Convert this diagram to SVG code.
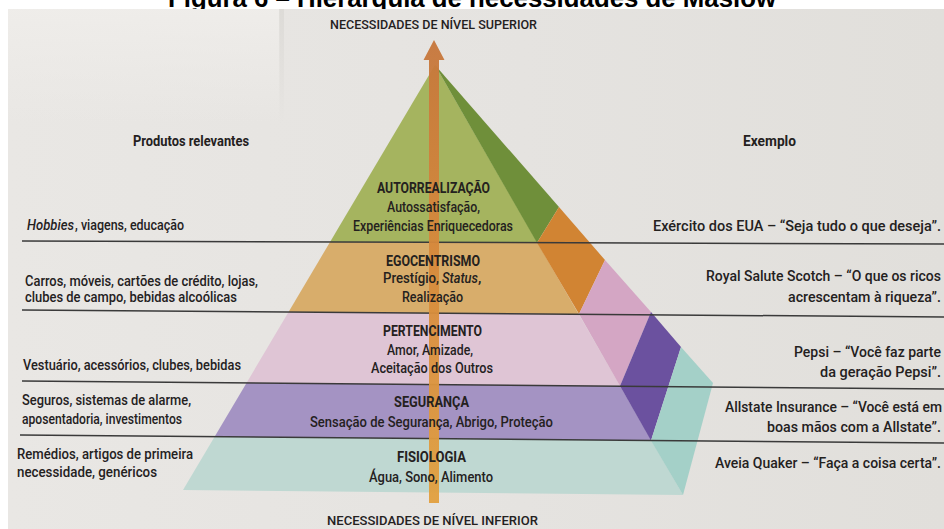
<svg xmlns="http://www.w3.org/2000/svg" width="944" height="529" viewBox="0 0 944 529">
  <defs>
    <linearGradient id="page" x1="0" y1="0" x2="1" y2="0">
      <stop offset="0" stop-color="#e9e7e4"/>
      <stop offset="0.55" stop-color="#e5e3e0"/>
      <stop offset="1" stop-color="#e1dfdb"/>
    </linearGradient>
    <linearGradient id="corner" x1="0" y1="0" x2="0" y2="1">
      <stop offset="0" stop-color="#efedea" stop-opacity="0.95"/>
      <stop offset="1" stop-color="#efedea" stop-opacity="0"/>
    </linearGradient>
    <linearGradient id="fold" x1="0" y1="0" x2="0" y2="1">
      <stop offset="0" stop-color="#d9d7d3" stop-opacity="0.7"/>
      <stop offset="1" stop-color="#d9d7d3" stop-opacity="0"/>
    </linearGradient>
    <linearGradient id="shaft" x1="0" y1="0" x2="0" y2="1">
      <stop offset="0" stop-color="#c6763b"/>
      <stop offset="0.45" stop-color="#d6883b"/>
      <stop offset="1" stop-color="#e2a03f"/>
    </linearGradient>
    <clipPath id="front">
      <polygon points="435,65 183,490 683,495"/>
    </clipPath>
  </defs>
  <style>
    .title{font-family:"Liberation Sans",Arial,sans-serif;font-weight:700;font-size:26px;fill:#000}
    .t{font-family:Roboto,"Liberation Sans",Arial,sans-serif;font-weight:500;font-size:15px;fill:#24211e}
    .r{text-anchor:end}
    .h{font-weight:700}
    .cap{font-size:12.5px}
    .i{font-style:italic}
    .rule{stroke:#3a3a3a;stroke-width:1.5;fill:none}
  </style>

  <!-- caption above the photographed page -->
  <rect width="944" height="529" fill="#ffffff"/>
  <text class="title" x="168" y="7" textLength="608" lengthAdjust="spacingAndGlyphs">Figura 6 – Hierarquia de necessidades de Maslow</text>

  <!-- page -->
  <rect x="8" y="9" width="936" height="520" fill="url(#page)"/>
  <rect x="8" y="9" width="272" height="115" fill="url(#corner)"/>
  <rect x="279" y="9" width="5" height="115" fill="url(#fold)"/>

  <!-- pyramid faces: front bands clipped to the front triangle, side pieces on the right face -->
  <g id="pyramid-faces">
    <g clip-path="url(#front)">
      <polygon id="front-autorrealizacao" fill="#a5b45f" points="150,0 720,0 720,243.3 150,241.4"/>
      <polygon id="front-egocentrismo" fill="#d8ad6b" points="150,241.4 720,243.3 720,315.3 150,311"/>
      <polygon id="front-pertencimento" fill="#dfc5d5" points="150,311 720,315.3 720,387.1 150,382.1"/>
      <polygon id="front-seguranca" fill="#a493c3" points="150,382.1 720,387.1 720,441.1 150,436.1"/>
      <polygon id="front-fisiologia" fill="#bfd8d2" points="150,436.1 720,441.1 720,520 150,520"/>
    </g>
    <polygon id="side-autorrealizacao" fill="#6f8f3a" points="435,65 559,207 537,242.7"/>
    <polygon id="side-egocentrismo" fill="#d18433" points="537,242.7 559,207 605,260 579,314"/>
    <polygon id="side-pertencimento" fill="#d4a6c4" points="579,314 605,260 651,312 620,386"/>
    <polygon id="side-seguranca" fill="#6b519f" points="620,386 651,312 681,347 651,440.5"/>
    <polygon id="side-fisiologia" fill="#a4d0c8" points="651,440.5 681,347 713,383 683,495"/>
  </g>

  <!-- connectors: row rules and the vertical needs axis -->
  <g id="connectors">
    <line class="rule" x1="22" y1="241" x2="944" y2="244"/>
    <line class="rule" x1="22" y1="310" x2="944" y2="317"/>
    <line class="rule" x1="22" y1="381" x2="944" y2="389"/>
    <line class="rule" x1="20" y1="435" x2="944" y2="443"/>
    <path id="needs-axis" fill="url(#shaft)" fill-opacity="0.95" d="M434,40 L444.5,60 L439,60 L439,503 L429,503 L429,60 L423.5,60 Z"/>
  </g>

  <!-- axis ends -->
  <g id="axis-top">
    <text class="t cap" x="330" y="29" textLength="207" lengthAdjust="spacingAndGlyphs">NECESSIDADES DE NÍVEL SUPERIOR</text>
  </g>
  <g id="axis-bottom">
    <text class="t cap" x="327" y="525" textLength="211" lengthAdjust="spacingAndGlyphs">NECESSIDADES DE NÍVEL INFERIOR</text>
  </g>

  <!-- column headers -->
  <g id="header-produtos">
    <text class="t h" x="133" y="146" textLength="116" lengthAdjust="spacingAndGlyphs">Produtos relevantes</text>
  </g>
  <g id="header-exemplo">
    <text class="t h" x="743" y="146" textLength="53" lengthAdjust="spacingAndGlyphs">Exemplo</text>
  </g>

  <!-- levels -->
  <g id="level-autorrealizacao">
    <text class="t h" x="377" y="193" textLength="113" lengthAdjust="spacingAndGlyphs">AUTORREALIZAÇÃO</text>
    <text class="t" x="387" y="212" textLength="93" lengthAdjust="spacingAndGlyphs">Autossatisfação,</text>
    <text class="t" x="353" y="231" textLength="160" lengthAdjust="spacingAndGlyphs">Experiências Enriquecedoras</text>
    <text class="t i" x="27" y="230" textLength="47" lengthAdjust="spacingAndGlyphs">Hobbies</text>
    <text class="t" x="75" y="230" textLength="109" lengthAdjust="spacingAndGlyphs">, viagens, educação</text>
    <text class="t r" x="941" y="231" textLength="288" lengthAdjust="spacingAndGlyphs">Exército dos EUA – “Seja tudo o que deseja”.</text>
  </g>

  <g id="level-egocentrismo">
    <text class="t h" x="386" y="266" textLength="94" lengthAdjust="spacingAndGlyphs">EGOCENTRISMO</text>
    <text class="t" x="383" y="283" textLength="56" lengthAdjust="spacingAndGlyphs">Prestígio,</text>
    <text class="t i" x="442" y="283" textLength="36" lengthAdjust="spacingAndGlyphs">Status</text>
    <text class="t" x="478" y="283">,</text>
    <text class="t" x="402" y="302" textLength="61" lengthAdjust="spacingAndGlyphs">Realização</text>
    <text class="t" x="25" y="286" textLength="233" lengthAdjust="spacingAndGlyphs">Carros, móveis, cartões de crédito, lojas,</text>
    <text class="t" x="25" y="302" textLength="212" lengthAdjust="spacingAndGlyphs">clubes de campo, bebidas alcoólicas</text>
    <text class="t r" x="941" y="281" textLength="235" lengthAdjust="spacingAndGlyphs">Royal Salute Scotch – “O que os ricos</text>
    <text class="t r" x="941" y="302" textLength="153" lengthAdjust="spacingAndGlyphs">acrescentam à riqueza”.</text>
  </g>

  <g id="level-pertencimento">
    <text class="t h" x="383" y="336" textLength="99" lengthAdjust="spacingAndGlyphs">PERTENCIMENTO</text>
    <text class="t" x="387" y="355" textLength="86" lengthAdjust="spacingAndGlyphs">Amor, Amizade,</text>
    <text class="t" x="371" y="373" textLength="122" lengthAdjust="spacingAndGlyphs">Aceitação dos Outros</text>
    <text class="t" x="23" y="370" textLength="218" lengthAdjust="spacingAndGlyphs">Vestuário, acessórios, clubes, bebidas</text>
    <text class="t r" x="941" y="357" textLength="147" lengthAdjust="spacingAndGlyphs">Pepsi – “Você faz parte</text>
    <text class="t r" x="941" y="377" textLength="121" lengthAdjust="spacingAndGlyphs">da geração Pepsi”.</text>
  </g>

  <g id="level-seguranca">
    <text class="t h" x="394" y="407" textLength="75" lengthAdjust="spacingAndGlyphs">SEGURANÇA</text>
    <text class="t" x="310" y="427" textLength="243" lengthAdjust="spacingAndGlyphs">Sensação de Segurança, Abrigo, Proteção</text>
    <text class="t" x="22" y="405" textLength="169" lengthAdjust="spacingAndGlyphs">Seguros, sistemas de alarme,</text>
    <text class="t" x="22" y="424" textLength="160" lengthAdjust="spacingAndGlyphs">aposentadoria, investimentos</text>
    <text class="t r" x="942" y="412" textLength="217" lengthAdjust="spacingAndGlyphs">Allstate Insurance – “Você está em</text>
    <text class="t r" x="941" y="432" textLength="174" lengthAdjust="spacingAndGlyphs">boas mãos com a Allstate”.</text>
  </g>

  <g id="level-fisiologia">
    <text class="t h" x="397" y="462" textLength="69" lengthAdjust="spacingAndGlyphs">FISIOLOGIA</text>
    <text class="t" x="369" y="482" textLength="124" lengthAdjust="spacingAndGlyphs">Água, Sono, Alimento</text>
    <text class="t" x="17" y="459" textLength="176" lengthAdjust="spacingAndGlyphs">Remédios, artigos de primeira</text>
    <text class="t" x="17" y="477" textLength="140" lengthAdjust="spacingAndGlyphs">necessidade, genéricos</text>
    <text class="t r" x="941" y="468" textLength="226" lengthAdjust="spacingAndGlyphs">Aveia Quaker – “Faça a coisa certa”.</text>
  </g>
</svg>
